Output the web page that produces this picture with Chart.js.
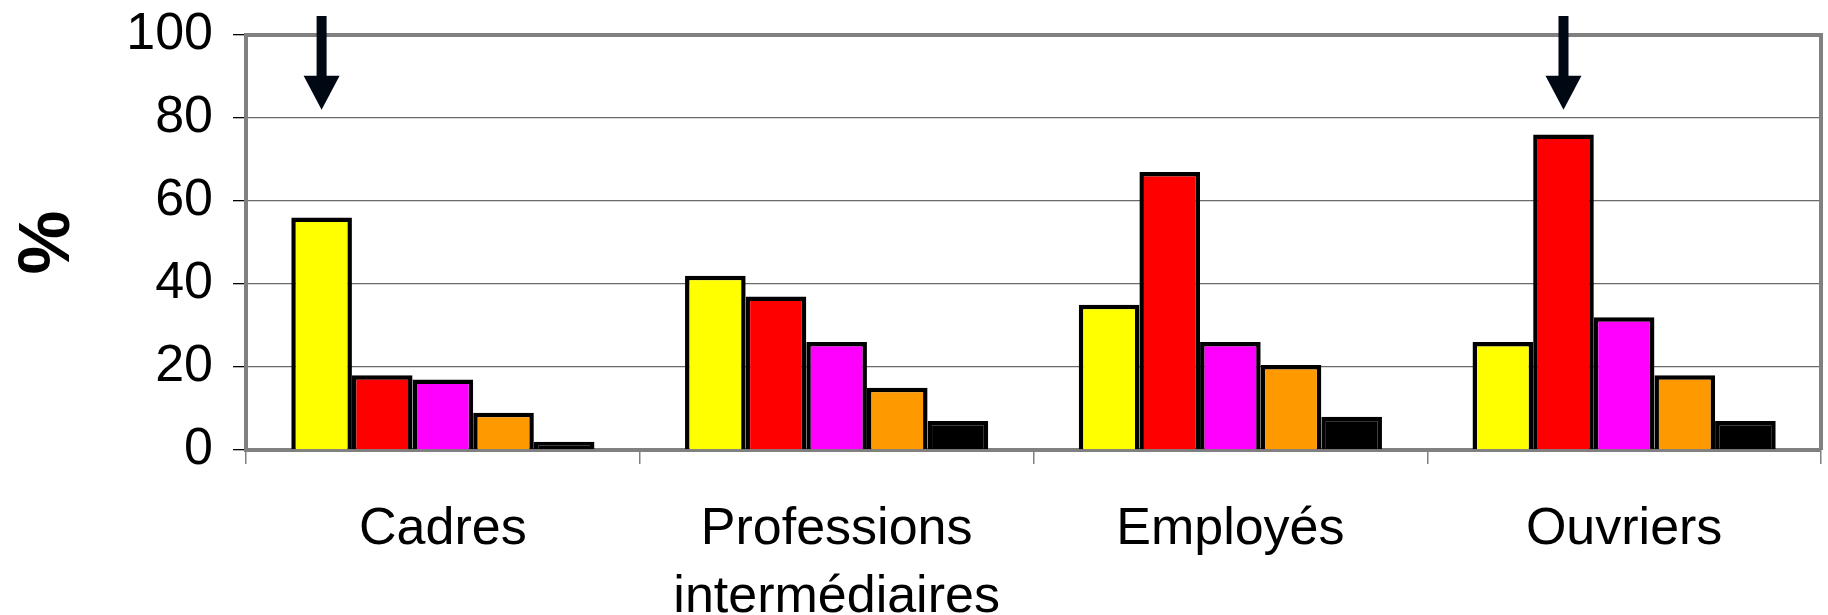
<!DOCTYPE html>
<html>
<head>
<meta charset="utf-8">
<script src="https://cdn.jsdelivr.net/npm/chart.js@4/dist/chart.umd.min.js"></script>
<style>
  html, body { margin: 0; padding: 0; background: #fff; }
  #wrap { width: 1828px; height: 615px; }
</style>
</head>
<body>
<div id="wrap"><canvas id="chart"></canvas></div>
<script>
// categories and series
const categories = ['Cadres', ['Professions', 'intermédiaires'], 'Employés', 'Ouvriers'];
const serie1 = [56, 42, 35, 26];
const serie2 = [18, 37, 67, 76];
const serie3 = [17, 26, 26, 32];
const serie4 = [9, 15, 20.5, 18];
const serie5 = [2, 7, 8, 7];
const seriesColors = ['#ffff00', '#ff0000', '#ff00ff', '#ff9900', '#000000'];
const yTicks = [0, 20, 40, 60, 80, 100];

// arrows point at: [dataset, category], tip at this value
const arrows = [[0, 0], [1, 3]];
const arrowTip = 82;

const allSeries = [serie1, serie2, serie3, serie4, serie5];

const frame = {
  id: 'frame',
  beforeDatasetsDraw(chart) {
    const { ctx, chartArea: a } = chart;
    ctx.save();
    ctx.strokeStyle = '#808080';
    ctx.lineWidth = 4;
    ctx.beginPath();
    ctx.moveTo(a.left, a.top);
    ctx.lineTo(a.right, a.top);
    ctx.lineTo(a.right, a.bottom);
    ctx.stroke();
    ctx.restore();
  }
};

const arrowPlugin = {
  id: 'arrows',
  afterDatasetsDraw(chart) {
    const ctx = chart.ctx;
    const y = chart.scales.y;
    const tip = y.getPixelForValue(arrowTip);
    const top = y.top - 19;
    ctx.save();
    ctx.fillStyle = '#000814';
    arrows.forEach(([ds, i]) => {
      const x = chart.getDatasetMeta(ds).data[i].x;
      ctx.fillRect(x - 5, top, 10, tip - top - 30);
      ctx.beginPath();
      ctx.moveTo(x - 18, tip - 34);
      ctx.lineTo(x + 18, tip - 34);
      ctx.lineTo(x, tip);
      ctx.closePath();
      ctx.fill();
    });
    ctx.restore();
  }
};

new Chart(document.getElementById('chart'), {
  type: 'bar',
  data: {
    labels: categories,
    datasets: allSeries.map((d, k) => ({
      label: 'Série ' + (k + 1),
      data: d,
      backgroundColor: seriesColors[k],
      borderColor: '#000000',
      borderWidth: 4.5,
      categoryPercentage: 0.77,
      barPercentage: 1.0
    }))
  },
  options: {
    responsive: true,
    maintainAspectRatio: false,
    animation: false,
    layout: { padding: { top: 35, right: 7, left: 0, bottom: 0 } },
    plugins: {
      legend: { display: false },
      tooltip: { enabled: false }
    },
    scales: {
      x: {
        grid: { drawOnChartArea: false, drawTicks: true, tickLength: 14, color: '#808080', lineWidth: 1.5 },
        border: { color: '#808080', width: 4 },
        ticks: {
          color: '#000',
          font: { family: 'Liberation Sans', size: 52, lineHeight: 1.3 },
          padding: 32,
          maxRotation: 0,
          autoSkip: false
        },
        afterFit(s) { s.height = 165; s.paddingLeft = 0; s.paddingRight = 0; }
      },
      y: {
        min: 0,
        max: 100,
        afterBuildTicks(s) { s.ticks = yTicks.map(v => ({ value: v })); },
        grid: {
          color: '#6a6a6a',
          lineWidth: 1.3,
          tickLength: 13,
          tickColor: '#000'
        },
        border: { color: '#808080', width: 4 },
        ticks: {
          color: '#000',
          font: { family: 'Liberation Sans', size: 52 },
          padding: 20
        },
        title: {
          display: true,
          text: '%',
          color: '#000',
          font: { family: 'Liberation Sans', size: 72, weight: 'bold' },
          padding: { top: 6, bottom: 0 }
        },
        afterFit(s) { s.width = 246; s.paddingTop = 0; s.paddingBottom = 0; }
      }
    }
  },
  plugins: [frame, arrowPlugin]
});
</script>
</body>
</html>
